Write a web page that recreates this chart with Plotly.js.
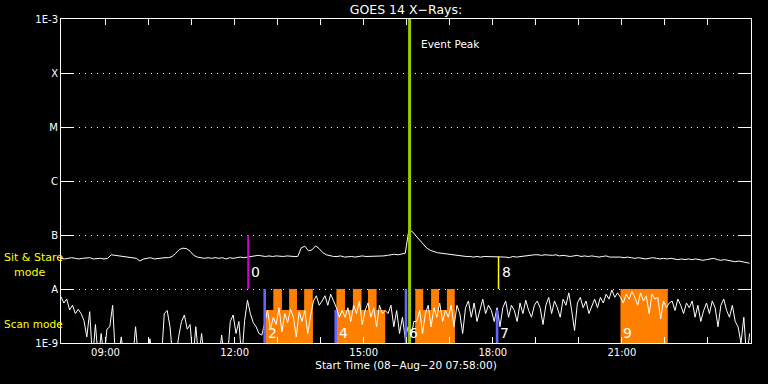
<!DOCTYPE html>
<html>
<head>
<meta charset="utf-8">
<script src="https://cdn.plot.ly/plotly-3.0.1.min.js"></script>
<style>
html,body{margin:0;padding:0;background:#000;}
#chart{width:768px;height:384px;}
</style>
</head>
<body>
<div id="chart"></div>
<script>
// ---------------- DATA ----------------
const startTime = '2020-08-08 07:58';
const endTime = '2020-08-09 00:00';

// GOES 14 long channel (upper curve), units of 1e-8 W/m^2, one sample every 5 min from 07:58
const longStepMin = 5;
const longFlux = [
  3.7,3.6,3.7,3.8,3.7,3.6,3.7,3.7,3.8,3.6,3.7,3.7,3.6,3.7,
  4.3,4.2,4.1,4.1,4.0,3.9,3.8,3.7,3.3,3.6,3.7,3.8,3.6,3.7,3.7,3.8,3.8,4.0,
  4.6,5.4,5.7,5.6,5.0,4.2,3.9,3.8,
  3.7,3.8,3.7,3.8,3.7,3.8,3.6,3.8,3.7,3.8,3.9,3.8,3.9,4.0,4.0,4.2,4.1,4.0,4.1,4.0,4.1,4.0,4.0,4.1,4.0,4.0,4.0,
  5.8,6.2,5.1,5.3,6.3,5.6,4.7,4.3,4.1,
  4.0,4.0,4.1,3.9,4.0,4.0,3.9,4.0,4.1,4.0,4.0,4.1,4.0,4.1,4.1,4.2,4.3,4.4,4.3,4.4,4.6,
  12.5,11.5,9.6,8.0,6.8,5.7,5.2,4.9,4.7,4.6,4.5,4.4,4.3,4.3,4.2,4.1,
  4.0,4.0,3.9,4.0,3.9,4.0,4.0,3.9,4.0,3.9,4.0,3.9,3.8,4.0,3.9,4.0,4.0,4.1,
  4.2,4.3,4.3,4.2,4.3,4.2,4.2,4.3,4.1,4.2,4.1,4.0,4.1,4.2,4.0,4.1,4.0,4.1,4.0,3.9,
  4.0,4.1,3.9,3.9,4.0,3.9,3.8,3.9,3.8,3.7,3.8,3.7,3.6,3.7,3.8,3.7,3.6,3.7,3.6,3.7,
  3.6,3.5,3.6,3.5,3.6,3.5,3.6,3.5,3.4,3.5,3.6,3.7,3.5,3.4,3.5,3.4,3.3,3.2,3.3,3.2,3.1,3.0
];
const longUnit = 1e-8;

// GOES 14 short channel (lower curve), units of 1e-9 W/m^2, one sample every 4 min from 07:58
// (values below 1 fall under the 1E-9 floor of the plot)
const shortStepMin = 4;
const shortFlux = [
  7.2,5.5,6.5,4.1,5,3.5,4.2,
  3.5,2.6,1.3,3.8,0.5,2.2,0.5,1.5,0.5,1.8,
  2,5,
  0.5,0.5,1.3,0.5,0.5,0.5,0.5,
  2,0.5,
  0.5,0.5,0.5,1.2,0.5,0.5,0.5,0.5,
  3.5,4,2,
  0.5,0.5,1.3,
  2.5,3.3,1.8,2.2,
  0.5,
  2,0.5,1.5,
  0.5,0.5,0.5,0.5,0.5,0.5,
  1.4,
  0.5,0.5,
  2.5,3.3,1.5,2.5,
  0.5,
  2.6,6.2,3.5,2.4,
  2.0,1.5,1.4,
  2.5,4,1.8,3,2.2,4.5,1.6,3.5,2.4,4.2,3,1.3,3.8,2.5,4,1.5,3.2,6,7.5,5,
  6,7.5,5,8,6,4.5,3,4,
  3,4.5,2.5,5,3.5,6,2.2,4,5.5,3,4.5,2,5,3.5,4,
  3.5,5,2,4,1.5,3,1.2,
  2,1.3,2.5,
  2.5,4,1.5,3.5,5,2,4.5,3,5.5,2.5,4,3,5,2,
  5,3.5,1.5,4.5,6,3,5.5,2.5,4,6.5,3.5,5,4,2.5,4.5,
  2,4.5,6,3,5,4,2.5,5.5,3.5,6.2,4,3,5,6,4.5,2.2,5,7,3.5,6,4.5,3,6.5,5,8.5,4,1.7,5.5,7,4.5,6,3.5,5,6.5,4.5,7,5.5,8,6.5,9.6,7,8.5,
  7,5.5,8,6.5,9,7,5,8.5,6,7.5,3.5,8,6.5,7,2.8,6,4.5,
  5.5,6,4,6.5,5,3.5,5.5,4.5,6,3,5,2.5,4,5.5,3.5,6,4.5,2,5,6.5,4,3,5,2.5,
  2,1,3,0.5,1.5
];
const shortUnit = 1e-9;

// Scan-mode periods (orange): low steps and full-height steps
const scanBaseStart = ['12:43','14:22','16:12'];
const scanBaseEnd   = ['13:49','15:30','17:07'];
const scanBaseLevel = 4.1e-9;
const scanFullStart = ['12:54','13:16','13:37','14:22','14:45','15:06','16:12','16:34','16:56','20:58'];
const scanFullEnd   = ['13:06','13:27','13:49','14:34','14:57','15:18','16:23','16:45','17:07','22:04'];
const scanFullLevel = 1e-8;
const scanFloor = 1e-9;

// Numbered events: time, label, line top / bottom level (null = no line)
const eventTimes  = ['12:19','12:42','14:21','15:59','18:06','18:08','20:58'];
const eventLabels = ['0','2','4','6','7','8','9'];
const eventTop    = [1e-7, 1e-8, 4.1e-9, 1e-8, 4.1e-9, 4e-8, null];
const eventBottom = [1e-8, 1e-9, 1e-9, 1e-9, 1e-9, 1e-8, null];

const peakTime = '16:04';
const peakLabel = 'Event Peak';

// Axis ticks
const yTickVals = [1e-9, 1e-8, 1e-7, 1e-6, 1e-5, 1e-4, 1e-3];
const yTickText = ['1E-9', 'A', 'B', 'C', 'M', 'X', '1E-3'];
const xTickVals = ['09:00','10:00','11:00','12:00','13:00','14:00','15:00','16:00','17:00','18:00','19:00','20:00','21:00','22:00','23:00'];
const xTickText = ['09:00','','','12:00','','','15:00','','','18:00','','','21:00','',''];

// ---------------- BUILD ----------------
const DAY = '2020-08-08';
const at = hm => DAY + ' ' + hm;
const t0 = Date.UTC(2020, 7, 8, 7, 58);
function minutesToDate(m) {
  const d = new Date(t0 + m * 60000);
  return d.toISOString().slice(0, 19).replace('T', ' ');
}

const traces = [];
const ORANGE = '#ff8000';
function rect(x0, x1, y0, y1) {
  traces.push({
    type: 'scatter', mode: 'lines', x: [x0, x1, x1, x0, x0], y: [y0, y0, y1, y1, y0],
    fill: 'toself', fillcolor: ORANGE, line: {width: 0, color: ORANGE}, hoverinfo: 'skip'
  });
}
scanBaseStart.forEach((s, i) => rect(at(s), at(scanBaseEnd[i]), scanFloor, scanBaseLevel));
scanFullStart.forEach((s, i) => rect(at(s), at(scanFullEnd[i]), scanFloor, scanFullLevel));

traces.push({
  type: 'scatter', mode: 'lines',
  x: shortFlux.map((v, i) => minutesToDate(i * shortStepMin)),
  y: shortFlux.map(v => v * shortUnit),
  line: {color: '#ffffff', width: 1}, hoverinfo: 'skip'
});
traces.push({
  type: 'scatter', mode: 'lines',
  x: longFlux.map((v, i) => minutesToDate(i * longStepMin)),
  y: longFlux.map(v => v * longUnit),
  line: {color: '#ffffff', width: 1}, hoverinfo: 'skip'
});

const eventColor = {'0': '#d000d0', '8': '#ffff00'};
const eventWidth = {'0': 2, '8': 1.5};
eventTimes.forEach((t, i) => {
  if (eventTop[i] === null) return;
  const lab = eventLabels[i];
  traces.push({
    type: 'scatter', mode: 'lines', x: [at(t), at(t)], y: [eventBottom[i], eventTop[i]],
    line: {color: eventColor[lab] || '#6464ff', width: eventWidth[lab] || 2.6}, hoverinfo: 'skip'
  });
});

traces.push({
  type: 'scatter', mode: 'lines', x: [at(peakTime), at(peakTime)], y: [1e-9, 1e-3],
  line: {color: '#99cc00', width: 3}, hoverinfo: 'skip'
});

const FONT = 'DejaVu Sans';
const annotations = [];
eventTimes.forEach((t, i) => {
  const upper = eventBottom[i] !== null && eventBottom[i] >= 1e-8;
  annotations.push({
    x: at(t), xref: 'x', y: upper ? 0.219 : 0.031, yref: 'paper',
    text: eventLabels[i], showarrow: false, xanchor: 'left', yanchor: 'middle', xshift: 1,
    font: {family: FONT, size: 14, color: '#ffffff'}
  });
});
annotations.push({
  x: at(peakTime), xref: 'x', y: 0.923, yref: 'paper', text: peakLabel, showarrow: false,
  xanchor: 'left', yanchor: 'middle', xshift: 9, font: {family: FONT, size: 10.5, color: '#ffffff'}
});
annotations.push({x: -0.0855, xref: 'paper', y: 0.265, yref: 'paper', text: 'Sit & Stare', showarrow: false,
  xanchor: 'left', yanchor: 'middle', font: {family: FONT, size: 11, color: '#ffff00'}});
annotations.push({x: -0.071, xref: 'paper', y: 0.219, yref: 'paper', text: 'mode', showarrow: false,
  xanchor: 'left', yanchor: 'middle', font: {family: FONT, size: 11, color: '#ffff00'}});
annotations.push({x: -0.0855, xref: 'paper', y: 0.060, yref: 'paper', text: 'Scan mode', showarrow: false,
  xanchor: 'left', yanchor: 'middle', font: {family: FONT, size: 10.5, color: '#ffff00'}});

const layout = {
  width: 768, height: 384,
  paper_bgcolor: '#000000', plot_bgcolor: '#000000',
  margin: {l: 61, r: 17, t: 19, b: 41, pad: 0},
  showlegend: false, hovermode: false,
  font: {family: FONT, color: '#ffffff', size: 10},
  title: {text: 'GOES 14 X\u2212Rays:', x: 0.5, xref: 'paper', y: 0.975, yref: 'container',
          xanchor: 'center', yanchor: 'middle', font: {family: FONT, size: 12.5, color: '#ffffff'}},
  xaxis: {
    type: 'date', range: [startTime, endTime],
    tickmode: 'array', tickvals: xTickVals.map(at), ticktext: xTickText,
    ticks: 'inside', ticklen: 6, tickwidth: 1, tickcolor: '#ffffff',
    showline: true, linecolor: '#ffffff', linewidth: 1, mirror: 'ticks',
    showgrid: false, zeroline: false,
    tickfont: {family: FONT, size: 10, color: '#ffffff'},
    title: {text: 'Start Time (08\u2212Aug\u221220 07:58:00)', standoff: 4,
            font: {family: FONT, size: 10.5, color: '#ffffff'}}
  },
  yaxis: {
    type: 'log', range: [-9, -3],
    tickmode: 'array', tickvals: yTickVals, ticktext: yTickText,
    ticks: 'inside', ticklen: 13, tickwidth: 1, tickcolor: '#ffffff',
    showline: true, linecolor: '#ffffff', linewidth: 1, mirror: 'ticks',
    showgrid: true, gridcolor: '#ffffff', gridwidth: 1, griddash: '1px,5px',
    zeroline: false,
    tickfont: {family: FONT, size: 10, color: '#ffffff'}
  },
  annotations: annotations
};

Plotly.newPlot('chart', traces, layout, {staticPlot: true, displayModeBar: false});
</script>
</body>
</html>
